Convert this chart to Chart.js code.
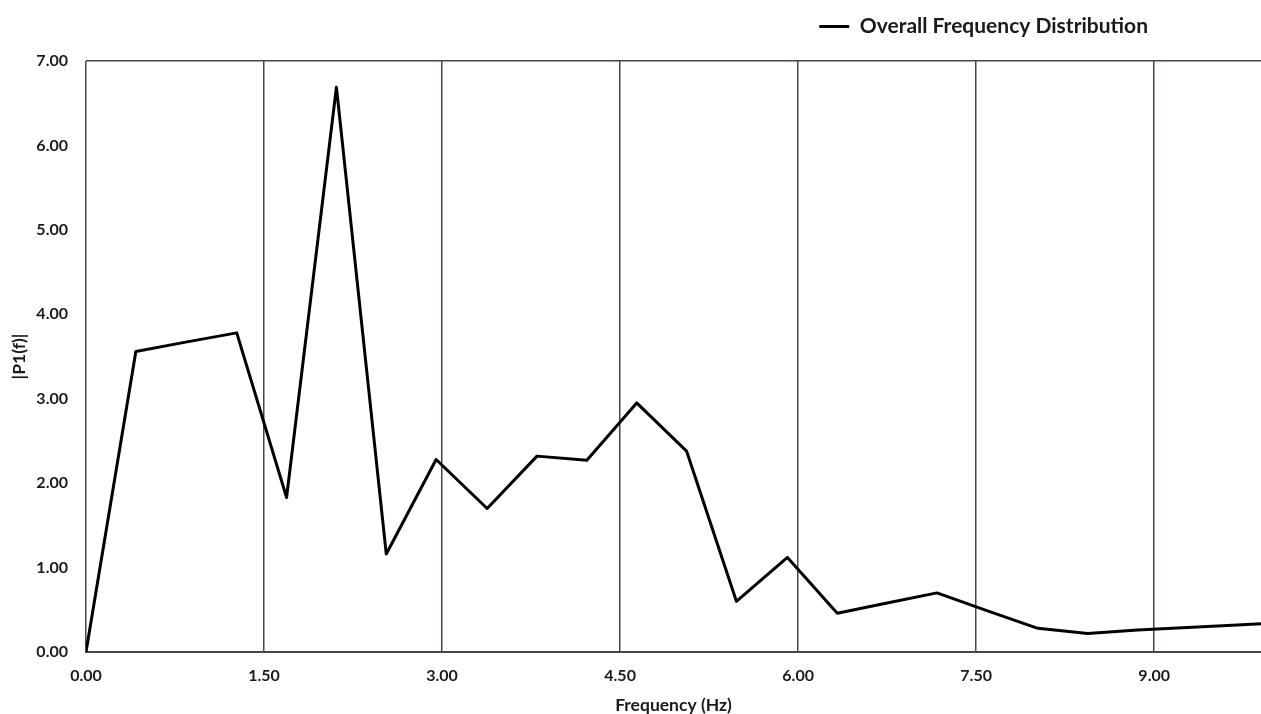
<!DOCTYPE html>
<html>
<head>
<meta charset="utf-8">
<script src="https://cdn.jsdelivr.net/npm/chart.js@4.4.1/dist/chart.umd.min.js"></script>
<style>
  html,body{margin:0;padding:0;background:#fff;}
  #wrap{width:1261px;height:714px;}
</style>
</head>
<body>
<div id="wrap"><canvas id="chart" width="1261" height="714"></canvas></div>
<script>
/* data */
const freqHz = [0, 0.42, 0.84, 1.27, 1.69, 2.11, 2.53, 2.95, 3.38, 3.80, 4.22, 4.64,
  5.06, 5.48, 5.91, 6.33, 6.75, 7.17, 7.59, 8.02, 8.44, 8.86, 9.28, 9.70, 10.13];
const amplitude = [0, 3.56, 3.67, 3.78, 1.83, 6.69, 1.16, 2.28, 1.70, 2.32, 2.27, 2.95,
  2.38, 0.60, 1.12, 0.46, 0.58, 0.70, 0.49, 0.28, 0.22, 0.26, 0.29, 0.32, 0.35];
const seriesName = "Overall Frequency Distribution";
const xTicks = [0, 1.5, 3, 4.5, 6, 7.5, 9];
const xMax = 9.9;
const yMax = 7;

const textColor = "#1a1a1a";
const gridColor = "#4d4545";
const fontFam = "Lato, 'Open Sans', sans-serif";

const points = freqHz.map((f,i)=>({x:f,y:amplitude[i]}));

/* legend: extra room below it, and pulled in from the right edge */
const legendShift = {
  id:"legendShift",
  afterInit(chart){
    const lg=chart.legend;
    const fit=lg.fit.bind(lg);
    lg.fit=function(){ fit(); this.height+=14; };
  },
  afterLayout(chart){
    chart.legend.right=1164;
  }
};

new Chart(document.getElementById("chart"),{
  type:"line",
  data:{
    datasets:[{
      label:seriesName,
      data:points,
      borderColor:"#000",
      backgroundColor:"#000",
      borderWidth:3,
      borderJoinStyle:"round",
      pointRadius:0,
      tension:0
    }]
  },
  options:{
    responsive:false,
    animation:false,
    layout:{padding:0},
    plugins:{
      legend:{
        position:"top",
        align:"end",
        labels:{
          usePointStyle:true,
          pointStyle:"line",
          pointStyleWidth:30,
          color:textColor,
          font:{family:fontFam,size:21,weight:"bold"},
          padding:16
        }
      },
      tooltip:{enabled:false}
    },
    scales:{
      x:{
        type:"linear",
        min:0,
        max:xMax,
        afterBuildTicks(scale){
          scale.ticks=xTicks.map(v=>({value:v}));
        },
        afterFit(scale){ scale.height=62; },
        border:{display:true,color:gridColor,width:2},
        grid:{color:gridColor,lineWidth:1.5,drawTicks:false},
        ticks:{
          color:textColor,
          padding:14,
          font:{family:fontFam,size:16,weight:"bold"},
          callback:v=>Number(v).toFixed(2)
        },
        title:{
          display:true,
          text:"Frequency (Hz)",
          color:textColor,
          font:{family:fontFam,size:17.5,weight:"bold"},
          padding:{top:0,bottom:-2}
        }
      },
      y:{
        min:0,
        max:yMax,
        afterFit(scale){ scale.width=86; },
        border:{display:false},
        grid:{
          color:c=>c.tick && c.tick.value===yMax?gridColor:"rgba(0,0,0,0)",
          lineWidth:1.5,
          drawTicks:false
        },
        ticks:{
          stepSize:1,
          color:textColor,
          padding:18,
          font:{family:fontFam,size:16,weight:"bold"},
          callback:v=>Number(v).toFixed(2)
        },
        title:{
          display:true,
          text:"|P1(f)|",
          color:textColor,
          font:{family:fontFam,size:17.5,weight:"bold"},
          padding:{top:9,bottom:0}
        }
      }
    }
  },
  plugins:[legendShift]
});
</script>
</body>
</html>
